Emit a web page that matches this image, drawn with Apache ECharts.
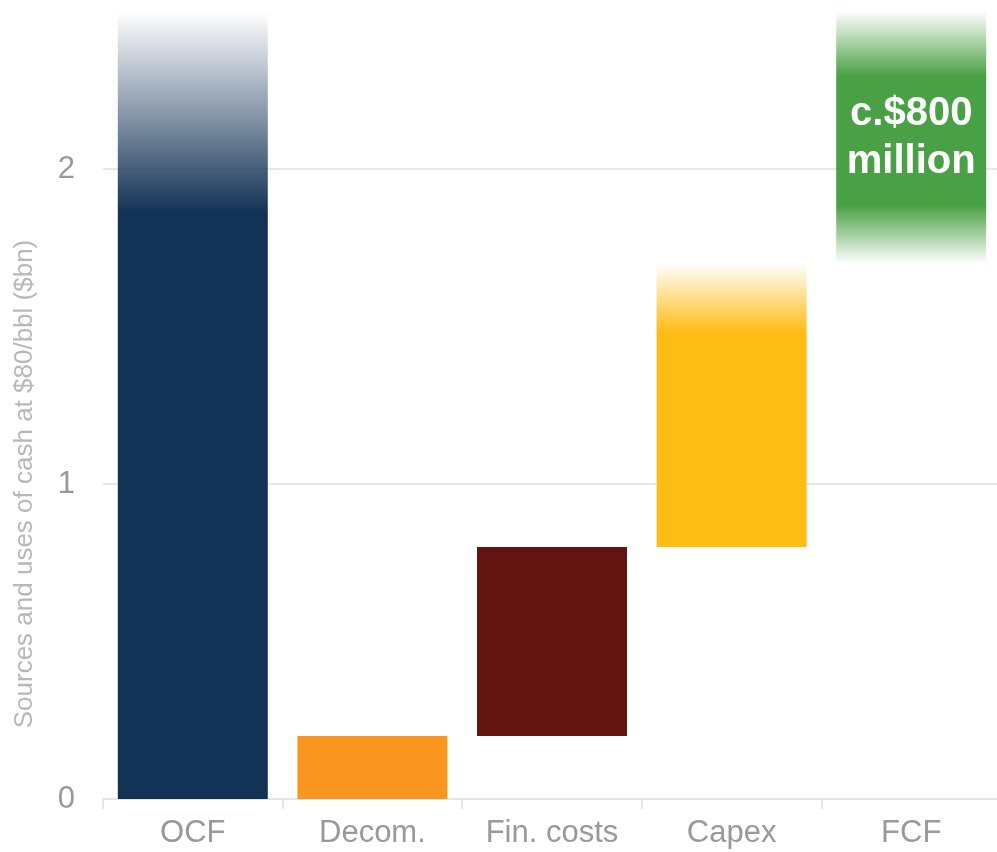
<!DOCTYPE html>
<html>
<head>
<meta charset="utf-8">
<style>
  html, body { margin: 0; padding: 0; background: #ffffff; overflow: hidden; }
  #chart { width: 1005px; height: 852px; }
</style>
<script src="https://cdn.jsdelivr.net/npm/echarts@6/dist/echarts.min.js"></script>
</head>
<body>
<div id="chart"></div>
<script>
const categories = ['OCF', 'Decom.', 'Fin. costs', 'Capex', 'FCF'];
const baseValues = [0, 0, 0.2, 0.8, 1.7];
const barValues = [2.5, 0.2, 0.6, 0.9, 0.8];
const yTicks = [0, 1, 2];
const yAxisName = 'Sources and uses of cash at $80/bbl ($bn)';
const fcfLabel = 'c.$800\nmillion';

const rgba = (rgb, a) => 'rgba(' + rgb.join(',') + ',' + a + ')';
const navy = [19, 51, 86];
const orange = [248, 150, 31];
const darkRed = [99, 20, 16];
const gold = [253, 189, 21];
const green = [74, 160, 68];

function fadeTop(rgb, stop) {
  return new echarts.graphic.LinearGradient(0, 0, 0, 1, [
    { offset: 0, color: rgba(rgb, 0) },
    { offset: stop, color: rgba(rgb, 1) },
    { offset: 1, color: rgba(rgb, 1) }
  ]);
}
function fadeBoth(rgb, top, bottom) {
  return new echarts.graphic.LinearGradient(0, 0, 0, 1, [
    { offset: 0, color: rgba(rgb, 0) },
    { offset: top, color: rgba(rgb, 1) },
    { offset: bottom, color: rgba(rgb, 1) },
    { offset: 1, color: rgba(rgb, 0) }
  ]);
}

const barFills = [
  fadeTop(navy, 0.255),
  rgba(orange, 1),
  rgba(darkRed, 1),
  fadeTop(gold, 0.24),
  fadeBoth(green, 0.257, 0.77)
];

const chart = echarts.init(document.getElementById('chart'), null, { renderer: 'canvas' });

chart.setOption({
  animation: false,
  backgroundColor: '#ffffff',
  textStyle: { fontFamily: '"Liberation Sans", Arial, sans-serif' },
  grid: { left: 103, right: 4, top: 11.5, bottom: 53, containLabel: false },
  xAxis: {
    type: 'category',
    data: categories,
    axisLine: { show: true, lineStyle: { color: '#e6e6e6', width: 2 } },
    axisTick: { show: true, length: 10, lineStyle: { color: '#e6e6e6', width: 2 } },
    axisLabel: { color: '#999999', fontSize: 31, margin: 19 }
  },
  yAxis: {
    type: 'value',
    min: 0,
    max: 2.5,
    interval: 1,
    axisLine: { show: false },
    axisTick: { show: false },
    axisLabel: {
      color: '#999999', fontSize: 31, margin: 28, showMaxLabel: false,
      formatter: v => (yTicks.indexOf(v) >= 0 ? String(v) : '')
    },
    splitLine: { show: true, showMaxLine: false, lineStyle: { color: '#e8e8e8', width: 2 } }
  },
  graphic: [{
    type: 'text',
    x: 25,
    y: 484,
    rotation: Math.PI / 2,
    style: {
      text: yAxisName,
      fill: '#b8b8b8',
      font: '26px "Liberation Sans", Arial, sans-serif',
      textAlign: 'center',
      textVerticalAlign: 'middle'
    }
  }],
  series: [
    {
      name: 'base',
      type: 'bar',
      stack: 'w',
      barWidth: 150,
      silent: true,
      itemStyle: { color: 'rgba(0,0,0,0)' },
      data: baseValues
    },
    {
      name: 'value',
      type: 'bar',
      stack: 'w',
      barWidth: 150,
      data: barValues.map((v, i) => ({
        value: v,
        itemStyle: { color: barFills[i] },
        label: i === 4 ? {
          show: true,
          position: 'inside',
          formatter: fcfLabel,
          color: '#ffffff',
          fontSize: 40,
          fontWeight: 'bold',
          lineHeight: 48
        } : { show: false }
      }))
    }
  ]
});
</script>
</body>
</html>
